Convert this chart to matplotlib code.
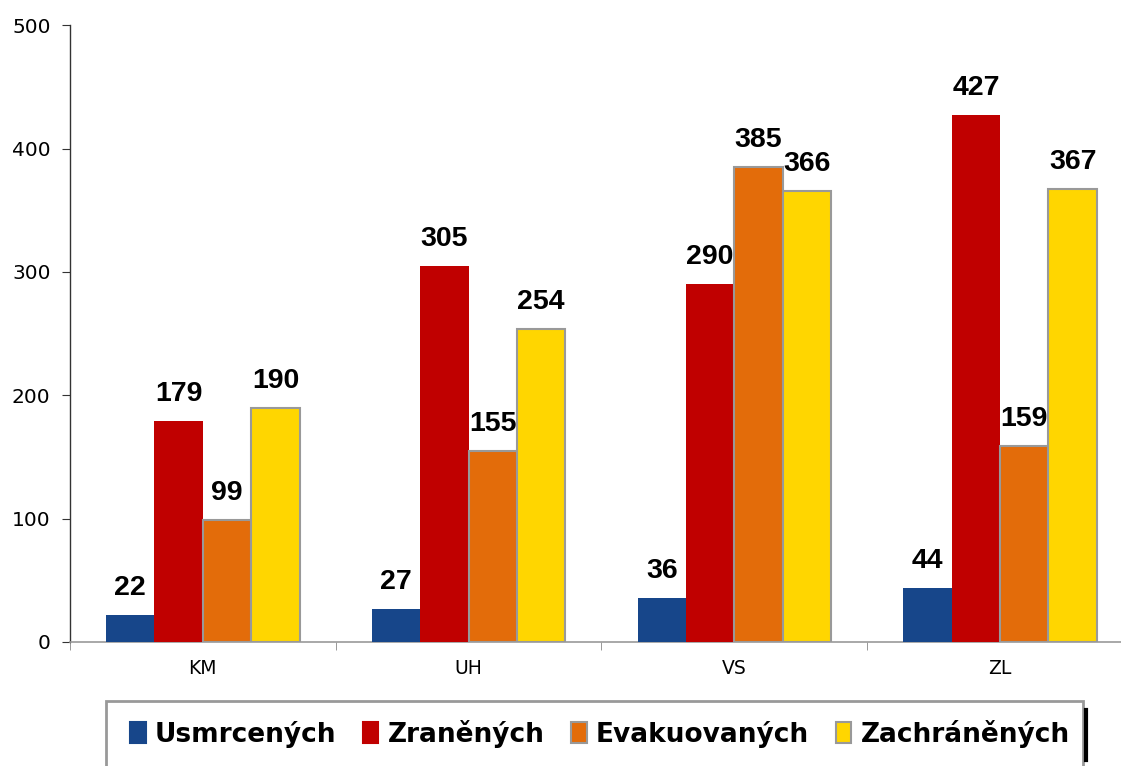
import matplotlib
matplotlib.use("Agg")
import matplotlib.pyplot as plt
import numpy as np
from matplotlib.patches import Rectangle
from matplotlib.lines import Line2D

categories = ["KM", "UH", "VS", "ZL"]
series_names = ["Usmrcených", "Zraněných", "Evakuovaných", "Zachráněných"]
usmrcenych = [22, 27, 36, 44]
zranenych = [179, 305, 290, 427]
evakuovanych = [99, 155, 385, 159]
zachranenych = [190, 254, 366, 367]
yticks = [0, 100, 200, 300, 400, 500]

series = [usmrcenych, zranenych, evakuovanych, zachranenych]
colors = ["#17468A", "#C00000", "#E36C0A", "#FFD600"]
edges = ["none", "none", "#999999", "#999999"]

plt.rcParams['font.family'] = ['Liberation Sans', 'DejaVu Sans']

fig = plt.figure(figsize=(11.21, 7.66), dpi=100)
ax = fig.add_axes([0.0624, 0.1619, 0.9483, 0.8051])

x = np.arange(len(categories))
w = 0.182
for i, (vals, c, ec) in enumerate(zip(series, colors, edges)):
    pos = x + (i - 1.5) * w
    lw = 1.5 if ec != "none" else 0
    ax.bar(pos, vals, width=w, color=c, edgecolor=ec, linewidth=lw, zorder=3)
    for px, v in zip(pos, vals):
        ax.annotate(str(v), (px, v), xytext=(0, 10), textcoords="offset points",
                    ha="center", va="bottom", fontsize=20.5, fontweight="bold",
                    family=["Liberation Sans", "DejaVu Sans"], color="black")

ax.set_xlim(-0.5, len(categories) - 0.5)
ax.set_ylim(0, 500)
ax.set_yticks(yticks)
ax.set_yticklabels([str(t) for t in yticks], fontsize=14.5, family="DejaVu Sans")
ax.set_xticks(x)
ax.set_xticklabels(categories, fontsize=13.5, family="DejaVu Sans")
ax.tick_params(axis="x", length=0, pad=12)
ax.set_xticks(np.arange(len(categories) + 1) - 0.5, minor=True)
ax.tick_params(axis="x", which="minor", length=6, color="#888888", direction="out")
ax.tick_params(axis="y", length=6, color="#333333", direction="out", pad=8)
for s in ["top", "right"]:
    ax.spines[s].set_visible(False)
ax.spines["left"].set_color("#333333")
ax.spines["bottom"].set_color("#999999")
ax.spines["left"].set_linewidth(1.0)
ax.spines["bottom"].set_linewidth(1.2)

# Legend box
box = Rectangle((0.0945, -0.01), 0.872, 0.095, transform=fig.transFigure,
                facecolor="white", edgecolor="#999999", linewidth=2, zorder=1)
fig.add_artist(box)
fig.add_artist(Line2D([0.9685, 0.9685], [0.008, 0.073], transform=fig.transFigure,
                      color="black", linewidth=3))
handles = [Rectangle((0, 0), 1, 1, facecolor=c, edgecolor=ec if ec != "none" else c,
                     linewidth=1.5) for c, ec in zip(colors, edges)]
leg = fig.legend(handles, series_names, loc="center", bbox_to_anchor=(0.535, 0.042),
                 ncol=4, frameon=False,
                 prop={"size": 19, "weight": "bold", "family": "DejaVu Sans"},
                 handlelength=0.6, handleheight=0.85, handletextpad=0.35, columnspacing=1.0)

fig.savefig("out.png", dpi=100)
